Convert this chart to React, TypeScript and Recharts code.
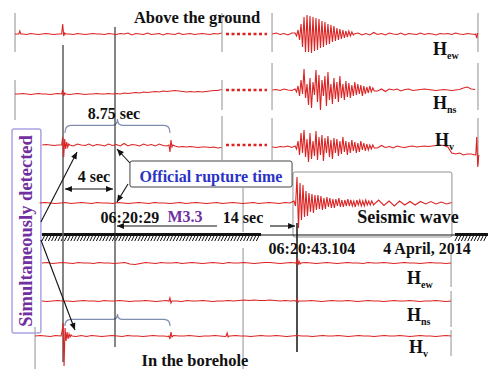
import {
  ComposedChart,
  Line,
  XAxis,
  YAxis,
  ReferenceLine,
  ReferenceArea,
  ReferenceDot,
} from "recharts";

// time axis: seconds from the official rupture time 06:20:29
// vertical axis: trace offset (top = 0)

type Piece = { t0: number; t1?: number; dt?: number; v: number[] };

// ---- above the ground, window before the gap ----
const aboveEwLeft = [
  0, 0.5, 0, -0.5, 0.5, 0, -0.5, 0, 0.5, 0, -0.5, 0, 0.5,
  0, 0, -0.5, 0.5, 0, -0.5, 0, 0.5, 0, 0, -0.5, 0.5, 0,
  -0.5, 0.5, 0, 1, -1, 0.5, 0, -0.5, 1, -0.5, 0, 0.5, -1, 0.5,
  0, -0.5, 1, -0.5, 0, 0.5, -0.5, 0, 0.5, 0, -0.5, 0.5, 0, 1,
];
const aboveNsLeft = [
  0, 0, 0.5, 0, -0.5, 0, 0.5, 0, 0, -0.5, 0, 0.5, 0,
  0, -0.5, 0, 0.5, 0, -0.5, 0, 0, 0.5, 0, 0, 0.5, 0,
  0.5, 0, 1, 0.5, 1, 1.5, 1, 2, 1.5, 2, 2.5, 2, 3, 2.5,
  3, 3.5, 3, 2.5, 2, 2.5, 2, 2.5, 2, 2.5, 3, 3.5, 3.5, 4.5,
];
const aboveVLeft = [
  0, 0.5, 0, -0.5, 0, 1, -0.5, 0.5, -1, 1, 0, -0.5,
  1, -1, 0.5, 0, -1, 1, -0.5, 0.5, -1, 1.5, -1, 0.5,
  0, -1, 1, -0.5, 0.5, -1, 1, -0.5, -1, -1.5, -1, -2,
  -1.5, -2, -1.5, -2, -2.5, -2, -2, -2.5, -2, -3, -2.5,
];

// ---- above the ground, window with the seismic wave ----
const aboveEwRight = [
  0, 1, -0.5, 0.5, -1, 1,
  0, 0, 0, 0, 0, 0, 0, 0, 0, 0, 0, 0, 0, 0, 0, 0,
  1, -1, 0.5, -1, 1.5, -0.5, 0.5, -1, 1, 0, -0.5, 1, -1, 0.5, 0, -0.5,
  1, -0.5, 0.5, 0, -1, 0.5, 0, 0.5, -0.5, 1, 0, -0.5, 0.5, 0, -0.5,
];
const ewBurst = [
  1, -2, 4, -6, 10, -13, 17, -18, 19, -18, 18, -19, 17, -17, 16, -16, 15, -14, 13, -13,
  12, -11, 10, -10, 9, -8, 8, -7, 6, -6, 5, -5, 4, -4, 3, -3, 3, -2, 2, -1,
];
const aboveNsRight = [
  0, 0.5, -0.5, 1, 0, -0.5,
  0, 0, 0, 0, 0, 0, 0, 0, 0, 0, 0, 0, 0, 0, 0, 0, 0, 0, 0, 0,
  1.5, -1, 1, -1.5, 1, 0, 1, -1, 0.5, 1, -0.5, 0, 0.5, 1, 0.5, 0, -0.5,
  0, 0.5, 0, -0.5, 0, 0.5, 2, 3, 1, 0.5,
];
const nsBurst = [
  1, -2, 4, -6, 10, -4, 21, -8, 6, -15, 12, -18, 8, -5, 20, -12, 15, -20, 10, -6,
  14, -16, 18, -10, 6, -14, 12, -9, 8, -12, 14, -8, 6, -10, 9, -7, 7, -8, 5, -6,
  8, -5, 6, -4, 5, -6, 4, -4, 3, -3, 4, -2, 2, -1,
];
const aboveVRight = [
  0, -0.5, 0.5, 0, 1, -0.5,
  0, 0, 0, 0, 0, 0, 0, 0, 0, 0, 0, 0, 0, 0, 0, 0, 0, 0, 0, 0,
  1, -1, 1.5, -0.5, 0.5, -1, 1, 0, -0.5, 0.5, 1, 0, 0.5, 1, 0.5, 1,
  1.5, 2, 1.5, 0, -6, -7, -6, -8, -7, -7, -8,
];
const vBurst = [
  1, -2, 6, -8, 14, -6, 17, -10, 8, -15, 14, -12, 6, -9, 16, -13, 10, -8, 12, -14,
  9, -6, 11, -10, 7, -12, 9, -6, 8, -9, 6, -7, 10, -5, 6, -8, 5, -6, 7, -4,
  5, -6, 4, -5, 6, -3, 4, -4, 3, -3, 2, -2, 2, -1,
];

// ---- "Seismic wave" trace ----
const seismic = [
  0, 0.5, 0, -0.5, 0, 0.5, -0.5, 0, 0.5, 0,
  -0.5, 0.5, 0, 0, -0.5, 0.5, 0, -0.5, 0, 0.5,
  0, -0.5, 0.5, 0, 0, -0.5, 0, 0.5, -0.5, 0,
  0.5, 0, -0.5, 0, 0.5, -0.5, 0, 0.5, 0, -0.5,
  0, 0.5, -0.5, 0, 0.5, 0, -0.5, 0.5, 0,
  0, 0, 0, 0, 0, 0, 0, 0, 0, 0, 0, 0, 0, 0,
  2.5, -2, 3, -2.5, 2, -3, 2, -2, 1.5, -2, 1.5, -1, 1.5, -1, 1, -1, 0.5,
];
const seismicBurst = [
  2, -3, 26, -25, 20, -17, 18, -14, 12, -13, 10, -9, 9, -10, 8, -7, 8, -6, 7, -7,
  5, -6, 6, -4, 5, -5, 4, -5, 4, -3, 5, -4, 3, -4, 3, -3, 4, -3, 3, -3,
  2, -4, 3, -2, 3, -3, 2, -3, 3, -2, 2, -2, 2, -1,
];

// ---- in the borehole ----
const boreEw = [
  0, 0.5, -0.5, 0, 0.5, 0, -0.5, 0.5, 0, 0,
  -0.5, 0.5, 0, 0, -0.5, 0, 0.5, -1, -1.5, -0.5,
  0.5, 0, -0.5, 0.5, 0, 0, 0.5, -0.5, 0, 0.5,
  0, -0.5, 0, 0.5, 0, -0.5, 0.5, 0, 0, 0.5,
  0, -0.5, 0, 0.5, 0.5, 0, -0.5, 0, 0.5, 0,
  0, 0.5, 0, -0.5, 0, 0.5, 0, -0.5, 0, 0.5,
  0, 0, -0.5, 0.5, 0, 0, 0.5, 0, -0.5, 0,
  0.5, 0, 0, -0.5, 0, 0.5, 0, 0, -0.5, 0,
];
const boreNs = [
  0, -0.5, 0, 0.5, 0, 0, -0.5, 0, 0.5, 0,
  0, -0.5, 0.5, 0, 0, 0.5, 0, -0.5, 0, 0,
  0.5, 0, -0.5, 0, 0.5, 0, 0, -0.5, 0.5, 0,
  0, 0.5, 0, -0.5, 0, 0, 0.5, 0, 0.5, 1,
  0.5, 1, 0.5, 0.5, 1, 0.5, 0, 0.5, 0, 0.5,
  0, 0, 0.5, 0, -0.5, 0, 0.5, 0, 0, 0.5,
  0, -0.5, 0, 0.5, 0, 0, -0.5, 0, 0.5, 0,
  0, 0.5, 0, -0.5, 0, 0, 0.5, 0, -0.5, 0,
];
const boreV = [
  0, 0.5, 0, -0.5, 0.5, 0, -1, 1, -0.5, 0.5,
  -0.5, 0.5, 0, -0.5, 0, 0.5, 0, -0.5, 0.5, 0,
  0, -0.5, 0, 0.5, 0, 0, -0.5, 0.5, 0, 0,
  0.5, 0, -0.5, 0, 0, 0.5, 0, -0.5, 0, 0.5,
  0, 0, -0.5, 0, 0.5, 0, 0, 0.5, 0, -0.5,
  0, 0.5, 0, 0, -0.5, 0, 0.5, 0, 0, 0.5,
  0, -0.5, 0, 0.5, 0, 0, -0.5, 0, 0.5, 0,
  0, 0.5, 0, -0.5, 0, 0.5, 0, 0, -0.5, 0,
  0.5, 0,
];

// trace baselines (offset units)
const aboveBaseLeft = [34, 94, 145];
const aboveBaseRight = [34, 90, 147];
const seismicBase = 203;
const boreBase = [263, 301, 336];

const F = 0.077; // fine sample step (s) for spikes
const W = 0.115; // sample step (s) for the wave trains

const traces: { name: string; base: number; pieces: Piece[] }[] = [
  {
    name: "aboveEwL",
    base: aboveBaseLeft[0],
    pieces: [
      { t0: -7.7, t1: 8.2, v: aboveEwLeft },
      { t0: -7.4, dt: F, v: [0, 3, 0] },
      { t0: -4.1, dt: F, v: [0, 10, -2, 1, 0] },
    ],
  },
  {
    name: "aboveNsL",
    base: aboveBaseLeft[1],
    pieces: [
      { t0: -7.7, t1: 8.2, v: aboveNsLeft },
      { t0: -4.1, dt: F, v: [0, 4, -2, 1, 0] },
    ],
  },
  {
    name: "aboveVL",
    base: aboveBaseLeft[2],
    pieces: [
      { t0: -5.6, t1: 8.2, v: aboveVLeft },
      { t0: -4.1, dt: F, v: [0, 8, -12, 6, -4, 3, -2, 1, 0] },
      { t0: 4.15, dt: F, v: [0, -7, 5, -2, 0] },
    ],
  },
  {
    name: "aboveEwR",
    base: aboveBaseRight[0],
    pieces: [
      { t0: 12.1, t1: 27.7, v: aboveEwRight },
      { t0: 13.85, dt: W, v: ewBurst },
      { t0: 27.75, dt: F, v: [0, -4, 1] },
    ],
  },
  {
    name: "aboveNsR",
    base: aboveBaseRight[1],
    pieces: [
      { t0: 12.1, t1: 27.7, v: aboveNsRight },
      { t0: 13.85, dt: W, v: nsBurst },
    ],
  },
  {
    name: "aboveVR",
    base: aboveBaseRight[2],
    pieces: [
      { t0: 12.1, t1: 27.7, v: aboveVRight },
      { t0: 13.85, dt: W, v: vBurst },
      { t0: 27.75, dt: F, v: [-8, 10, -20, -8] },
    ],
  },
  {
    name: "seismic",
    base: seismicBase,
    pieces: [
      { t0: -5.8, t1: 25.9, v: seismic },
      { t0: 13.77, dt: W, v: seismicBurst },
    ],
  },
  {
    name: "boreEw",
    base: boreBase[0],
    pieces: [
      { t0: -5.62, t1: 25.85, v: boreEw },
      { t0: 13.92, dt: F, v: [0, 3, -2, 2, -1, 0] },
    ],
  },
  {
    name: "boreNs",
    base: boreBase[1],
    pieces: [
      { t0: -5.62, t1: 25.85, v: boreNs },
      { t0: 4.15, dt: F, v: [0, 3, -2, 0] },
      { t0: 13.92, dt: F, v: [0, 2, -1, 0] },
    ],
  },
  {
    name: "boreV",
    base: boreBase[2],
    pieces: [
      { t0: -6.15, t1: 25.85, v: boreV },
      { t0: -4.15, dt: F, v: [0, 4, 13, -30, 8, -5, 4, -3, 2, -1, 1, 0] },
      { t0: 4.15, dt: F, v: [0, -3, 4, -1, 0] },
      { t0: 8.55, dt: F, v: [0, 3, -1, 0] },
    ],
  },
];

function buildTrace(base: number, pieces: Piece[]) {
  const spans = pieces.map((p) => {
    const dt = p.dt ?? (p.t1! - p.t0) / (p.v.length - 1);
    return { p, dt, end: p.t0 + dt * (p.v.length - 1) };
  });
  const pts: { t: number; y: number }[] = [];
  spans.forEach((s, i) => {
    s.p.v.forEach((a, k) => {
      const t = s.p.t0 + k * s.dt;
      const covered = spans.some(
        (o, j) => j > i && t >= o.p.t0 - 1e-6 && t <= o.end + 1e-6
      );
      if (!covered) pts.push({ t, y: base - a });
    });
  });
  return pts.sort((a, b) => a.t - b.t);
}

const SERIF = "'Liberation Serif', 'Times New Roman', serif";
const RED = "#dc2323";
const PURPLE = "#7030a0";
const BLUE = "#2b33c6";
const GRAY = "#a3a3a3";

function txt(
  key: string,
  t: number,
  y: number,
  text: string,
  opts: { size?: number; color?: string; anchor?: string; rotate?: number } = {}
) {
  const { size = 16, color = "#111", anchor = "middle", rotate } = opts;
  return (
    <ReferenceDot
      key={key}
      x={t}
      y={y}
      r={1}
      ifOverflow="visible"
      shape={(p: any) => (
        <text
          x={p.cx}
          y={p.cy}
          textAnchor={anchor}
          dominantBaseline={rotate ? "central" : undefined}
          transform={rotate ? `rotate(${rotate} ${p.cx} ${p.cy})` : undefined}
          style={{ fontFamily: SERIF, fontWeight: 700, fontSize: size }}
          fill={color}
        >
          {text}
        </text>
      )}
    />
  );
}

function hLabel(key: string, t: number, y: number, sub: string) {
  return (
    <ReferenceDot
      key={key}
      x={t}
      y={y}
      r={1}
      ifOverflow="visible"
      shape={(p: any) => (
        <text x={p.cx} y={p.cy} style={{ fontFamily: SERIF, fontWeight: 700, fontSize: 18 }} fill="#111">
          H
          <tspan style={{ fontSize: 10 }} dy={4}>
            {sub}
          </tspan>
        </text>
      )}
    />
  );
}

function seg(
  key: string,
  a: [number, number],
  b: [number, number],
  stroke: string,
  width: number,
  dash?: string
) {
  return (
    <ReferenceLine
      key={key}
      segment={[
        { x: a[0], y: a[1] },
        { x: b[0], y: b[1] },
      ]}
      ifOverflow="visible"
      stroke={stroke}
      strokeWidth={width}
      strokeDasharray={dash}
    />
  );
}

function head(x: number, y: number, ang: number, color: string) {
  const L = 7;
  const Wd = 3;
  const bx = x - L * Math.cos(ang);
  const by = y - L * Math.sin(ang);
  const px = -Math.sin(ang) * Wd;
  const py = Math.cos(ang) * Wd;
  return (
    <polygon
      points={`${x},${y} ${bx + px},${by + py} ${bx - px},${by - py}`}
      fill={color}
    />
  );
}

function arrow(
  key: string,
  a: [number, number],
  b: [number, number],
  both = false,
  color = "#111"
) {
  return (
    <ReferenceLine
      key={key}
      segment={[
        { x: a[0], y: a[1] },
        { x: b[0], y: b[1] },
      ]}
      ifOverflow="visible"
      shape={(p: any) => {
        const ang = Math.atan2(p.y2 - p.y1, p.x2 - p.x1);
        return (
          <g>
            <line x1={p.x1} y1={p.y1} x2={p.x2} y2={p.y2} stroke={color} strokeWidth={1.1} />
            {head(p.x2, p.y2, ang, color)}
            {both ? head(p.x1, p.y1, ang + Math.PI, color) : null}
          </g>
        );
      }}
    />
  );
}

function brace(key: string, t1: number, t2: number, y1: number, y2: number) {
  return (
    <ReferenceArea
      key={key}
      x1={t1}
      x2={t2}
      y1={y1}
      y2={y2}
      ifOverflow="visible"
      shape={(p: any) => {
        const { x, y, width: w, height: h } = p;
        const m = x + w / 2;
        const yb = y + h * 0.45;
        const d = `M${x},${y + h} Q${x},${yb} ${x + 6},${yb} L${m - 5},${yb} Q${m},${yb} ${m},${y} Q${m},${yb} ${m + 5},${yb} L${x + w - 6},${yb} Q${x + w},${yb} ${x + w},${y + h}`;
        return <path d={d} fill="none" stroke="#7f8db0" strokeWidth={1.2} />;
      }}
    />
  );
}

function ground(key: string, t1: number, t2: number, y1: number, y2: number) {
  return (
    <ReferenceArea
      key={key}
      x1={t1}
      x2={t2}
      y1={y1}
      y2={y2}
      ifOverflow="visible"
      shape={(p: any) => {
        const { x, y, width: w, height: h } = p;
        const marks = [];
        for (let xx = x; xx < x + w - 2; xx += 3.2) {
          marks.push(
            <line key={xx} x1={xx} y1={y + h} x2={xx + 3} y2={y + 2} stroke="#111" strokeWidth={1} />
          );
        }
        return (
          <g>
            <rect x={x} y={y} width={w} height={3} fill="#111" />
            {marks}
          </g>
        );
      }}
    />
  );
}

function box(key: string, t1: number, t2: number, y1: number, y2: number, stroke: string, sw: number) {
  return (
    <ReferenceArea
      key={key}
      x1={t1}
      x2={t2}
      y1={y1}
      y2={y2}
      ifOverflow="visible"
      shape={(p: any) => (
        <rect
          x={p.x}
          y={p.y}
          width={p.width}
          height={p.height}
          rx={2}
          fill="none"
          stroke={stroke}
          strokeWidth={sw}
        />
      )}
    />
  );
}

// frame ticks at the ends of every recording window: [t, yTop, yBottom]
const frames: [number, number, number][] = [
  [-7.69, 13, 52], [-7.69, 80, 120],
  [8.23, 13, 52], [8.23, 80, 110], [8.23, 116, 160],
  [12.08, 13, 52], [12.08, 63, 110], [12.08, 118, 162],
  [27.92, 13, 52], [27.92, 63, 110], [27.92, 118, 165],
  [9.85, 188, 232],
  [25.85, 253, 287], [25.85, 291, 327], [25.85, 330, 356],
  [9.85, 248, 369], [-6.15, 327, 369],
];

export default function App() {
  const series = traces.map((tr) => ({ name: tr.name, pts: buildTrace(tr.base, tr.pieces) }));

  return (
    <div style={{ width: 488, height: 369 }}>
      <style>{"body{margin:0;background:#fff}"}</style>
      <ComposedChart width={488} height={369} margin={{ top: 0, right: 0, bottom: 0, left: 0 }}>
        <XAxis type="number" dataKey="t" domain={[-8.846, 28.692]} allowDataOverflow hide />
        <YAxis type="number" domain={[0, 369]} reversed allowDataOverflow hide />

        {box("inset", 13.69, 25.92, 172, 237, "#777", 0.8)}
        {box("official", 1.15, 13.62, 161, 187, "#444", 1)}
        {box("purple", -7.92, -5.7, 129, 333, "#a9a3e6", 1.5)}

        {frames.map(([t, a, b], i) => seg(`fr${i}`, [t, a], [t, b], GRAY, 1.2))}

        {seg("v1", [-4, 45], [-4, 362], "#666", 1.6)}
        {seg("v2", [0, 27], [0, 347], "#222", 1.1)}
        {seg("v3", [14, 223], [14, 352], "#222", 1.6)}

        {aboveBaseLeft.map((y, i) => seg(`gap${i}`, [8.54, i === 1 ? 90 : y], [11.69, i === 1 ? 90 : y], RED, 2.5, "3 2.5"))}

        {ground("g1", -5.62, 11.23, 233, 241)}
        {ground("g2", 26.15, 28.69, 233, 241)}
        {seg("gline", [11.23, 235], [26.15, 235], "#111", 1.2)}

        {series.map((s) => (
          <Line
            key={s.name}
            data={s.pts}
            dataKey="y"
            type="linear"
            stroke={RED}
            strokeWidth={1.1}
            dot={false}
            activeDot={false}
            isAnimationActive={false}
          />
        ))}

        {brace("b1", -3.85, 4.23, 119, 133)}
        {brace("b2", -3.85, 4.23, 314, 326)}

        {arrow("a4", [-3.85, 189], [-0.15, 189], true)}
        {arrow("ao1", [1.15, 163], [0.15, 149])}
        {arrow("ao2", [1.0, 184], [0.15, 202])}
        {arrow("at", [7.85, 226], [0.15, 226])}
        {arrow("a14", [11.92, 226], [13.85, 226])}
        {arrow("ap1", [-5.7, 222], [-2.92, 152])}
        {arrow("ap2", [-5.7, 240], [-3.08, 330])}

        {txt("above", 6.31, 23, "Above the ground", { size: 16.5 })}
        {txt("875", -0.08, 119, "8.75 sec")}
        {txt("4s", -1.62, 182, "4 sec")}
        {txt("off", 7.38, 182, "Official rupture time", { color: BLUE })}
        {txt("t0", 1.15, 223, "06:20:29")}
        {txt("m", 5.38, 222, "M3.3", { color: PURPLE })}
        {txt("14s", 9.85, 223, "14 sec")}
        {txt("sw", 22.54, 223, "Seismic wave", { size: 18 })}
        {txt("t1", 15.15, 254, "06:20:43.104")}
        {txt("date", 24, 254, "4 April, 2014")}
        {txt("bore", 6.15, 366, "In the borehole", { size: 16.5 })}
        {txt("sim", -6.81, 231, "Simultaneously detected", { size: 18.5, color: PURPLE, rotate: -90 })}

        {hLabel("h1", 24.46, 55, "ew")}
        {hLabel("h2", 24.46, 109, "ns")}
        {hLabel("h3", 24.62, 146, "v")}
        {hLabel("h4", 22.46, 284, "ew")}
        {hLabel("h5", 22.46, 321, "ns")}
        {hLabel("h6", 22.62, 353, "v")}
      </ComposedChart>
    </div>
  );
}
